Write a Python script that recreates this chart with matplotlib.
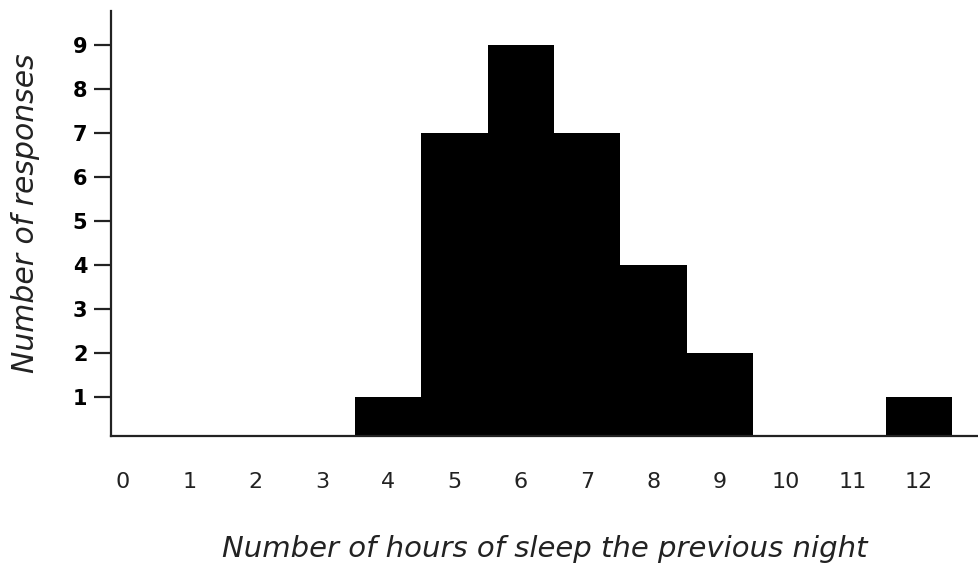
import matplotlib
matplotlib.use("Agg")
import matplotlib.pyplot as plt

hours = [0, 1, 2, 3, 4, 5, 6, 7, 8, 9, 10, 11, 12]
responses = [0, 0, 0, 0, 1, 7, 9, 7, 4, 2, 0, 0, 1]
y_ticks = [1, 2, 3, 4, 5, 6, 7, 8, 9]

fig = plt.figure(figsize=(9.79, 5.64), dpi=100)
ax = fig.add_axes([111/979, 1 - 436/564, 1 - 111/979, (436 - 11)/564])

ax.bar(hours, responses, width=1.0, color="black", edgecolor="black", linewidth=0)

ax.set_xlim(-0.18, 12.91)
ax.set_ylim(0.11, 9.77)

for s in ["top", "right"]:
    ax.spines[s].set_visible(False)
for s in ["left", "bottom"]:
    ax.spines[s].set_linewidth(1.6)
    ax.spines[s].set_color("#222222")

ax.set_xticks(hours)
ax.set_xticklabels([str(h) for h in hours], fontsize=16, color="#222222")
ax.tick_params(axis="x", length=0, pad=26)

ax.set_yticks(y_ticks)
ax.set_yticklabels([str(v) for v in y_ticks], fontsize=15, fontweight="bold")
ax.tick_params(axis="y", length=12, width=1.6, pad=5, color="#222222")

ax.set_xlabel("Number of hours of sleep the previous night", fontsize=21,
              style="italic", labelpad=31, color="#222222")
ax.set_ylabel("Number of responses", fontsize=21.5, style="italic",
              color="#222222")
ax.yaxis.set_label_coords(-0.082, 0.525)

fig.savefig("out.png", dpi=100)
